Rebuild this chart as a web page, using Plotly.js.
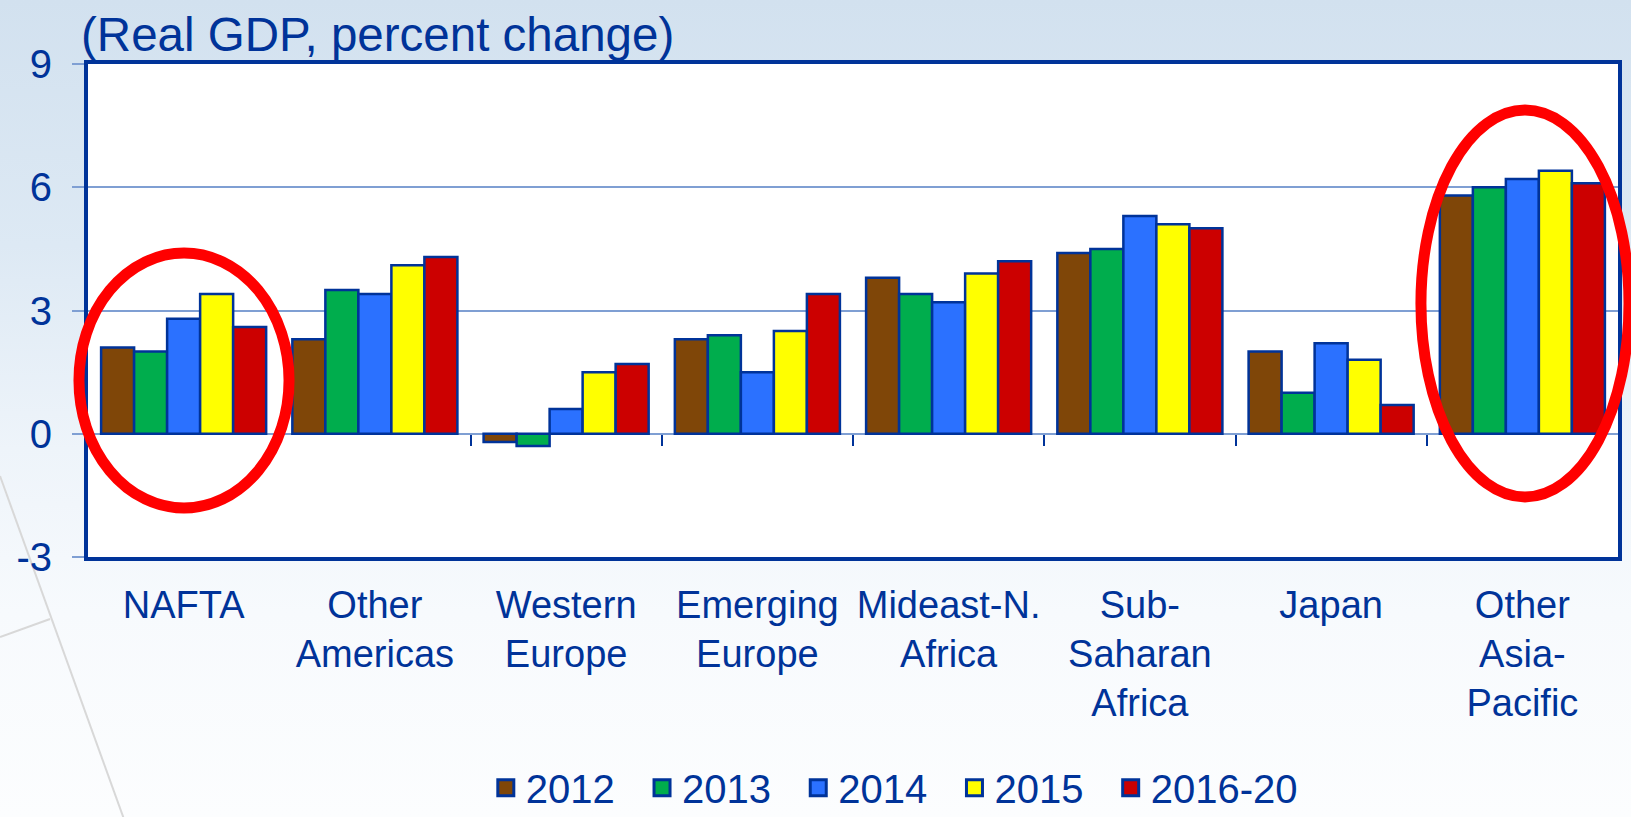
<!DOCTYPE html>
<html>
<head>
<meta charset="utf-8">
<script src="https://cdn.plot.ly/plotly-3.0.1.min.js"></script>
<style>
  html, body { margin: 0; padding: 0; }
  body {
    width: 1631px; height: 817px; overflow: hidden;
    background: linear-gradient(to bottom, #d2e1ef 0%, #dde9f4 30%, #eef4fa 55%, #f7fafd 75%, #fcfdfe 100%);
  }
  #chart { width: 1631px; height: 817px; }
</style>
</head>
<body>
<div id="chart"></div>
<script>
// ---- Data ----
const categories = ['NAFTA', 'Other<br>Americas', 'Western<br>Europe', 'Emerging<br>Europe',
                    'Mideast-N.<br>Africa', 'Sub-<br>Saharan<br>Africa', 'Japan', 'Other<br>Asia-<br>Pacific'];
const seriesNames = ['2012', '2013', '2014', '2015', '2016-20'];
const v2012   = [2.1, 2.3, -0.2, 2.3, 3.8, 4.4, 2.0, 5.8];
const v2013   = [2.0, 3.5, -0.3, 2.4, 3.4, 4.5, 1.0, 6.0];
const v2014   = [2.8, 3.4,  0.6, 1.5, 3.2, 5.3, 2.2, 6.2];
const v2015   = [3.4, 4.1,  1.5, 2.5, 3.9, 5.1, 1.8, 6.4];
const v2016_20 = [2.6, 4.3, 1.7, 3.4, 4.2, 5.0, 0.7, 6.1];
const yTicks = [-3, 0, 3, 6, 9];

const seriesValues = [v2012, v2013, v2014, v2015, v2016_20];
const seriesColors = ['#7f4608', '#00ad4d', '#2b71ff', '#ffff00', '#cc0000'];

const FONT = 'Liberation Sans, Arial, sans-serif';
const TXT = '#003399';
const OUTLINE = '#003399';
const GRID = '#7f9fd3';

const traces = [];
seriesNames.forEach((name, i) => {
  traces.push({
    type: 'bar',
    name: name,
    x: categories,
    y: seriesValues[i],
    marker: { color: seriesColors[i], line: { color: OUTLINE, width: 2.5 } },
    showlegend: false,
    hoverinfo: 'x+y+name'
  });
});
// legend entries (larger square swatches); trailing spaces give the reference item spacing
seriesNames.forEach((name, i) => {
  const pad = (i < seriesNames.length - 1) ? '\u00a0\u00a0' : '';
  traces.push({
    type: 'scatter',
    mode: 'markers',
    name: name + pad,
    x: [null], y: [null],
    xaxis: 'x2', yaxis: 'y',
    marker: { symbol: 'square', size: 16, color: seriesColors[i], line: { color: OUTLINE, width: 3 } },
    showlegend: true,
    hoverinfo: 'skip'
  });
});

const boundaryTicks = categories.slice(1).map((c, i) => i + 0.5);

const layout = {
  width: 1631, height: 817,
  margin: { l: 88, r: 13, t: 64, b: 260, autoexpand: false },
  paper_bgcolor: 'rgba(0,0,0,0)',
  plot_bgcolor: '#ffffff',
  font: { family: FONT, color: TXT },
  title: {
    text: '(Real GDP, percent change)',
    font: { family: FONT, size: 47.5, color: TXT },
    xref: 'container', x: 0.0497, xanchor: 'left',
    yref: 'container', y: 0.958, yanchor: 'middle'
  },
  barmode: 'group',
  bargap: 0.137,
  bargroupgap: 0,
  xaxis: {
    type: 'category',
    showline: true, mirror: true, linecolor: OUTLINE, linewidth: 4,
    showgrid: false, zeroline: false,
    ticks: '', tickangle: 0,
    ticklabelstandoff: 11,
    tickfont: { family: FONT, size: 38, color: TXT },
    automargin: false,
    fixedrange: true
  },
  xaxis2: {
    overlaying: 'x', anchor: 'free', position: 0.25, side: 'bottom',
    range: [-0.5, categories.length - 0.5],
    tickvals: boundaryTicks,
    ticks: 'outside', ticklen: 11, tickwidth: 2, tickcolor: OUTLINE,
    showticklabels: false, showline: false, showgrid: false, zeroline: false,
    fixedrange: true
  },
  yaxis: {
    range: [-3, 9],
    tickvals: yTicks,
    ticktext: yTicks.map(String),
    showline: true, mirror: true, linecolor: OUTLINE, linewidth: 4,
    showgrid: true, gridcolor: GRID, gridwidth: 1.5,
    zeroline: true, zerolinecolor: GRID, zerolinewidth: 1.5,
    ticks: 'outside', ticklen: 12, tickwidth: 1.5, tickcolor: GRID,
    ticklabelstandoff: 12,
    tickfont: { family: FONT, size: 40, color: TXT },
    automargin: false,
    fixedrange: true
  },
  legend: {
    orientation: 'h',
    x: 0.527, xanchor: 'center',
    y: -0.468, yanchor: 'middle',
    font: { family: FONT, size: 40, color: TXT },
    bgcolor: 'rgba(0,0,0,0)',
    itemclick: false, itemdoubleclick: false
  },
  shapes: [
    // decorative background lines (lower left)
    { type: 'line', xref: 'paper', yref: 'paper', layer: 'below',
      x0: -0.0575, y0: 0.1643, x1: 0.0242, y1: -0.5375,
      line: { color: '#d8d8d8', width: 2 } },
    { type: 'line', xref: 'paper', yref: 'paper', layer: 'below',
      x0: -0.0575, y0: -0.1623, x1: -0.0248, y1: -0.1258,
      line: { color: '#d8d8d8', width: 2 } },
    // red highlight ellipses
    { type: 'circle', xref: 'paper', yref: 'paper', layer: 'above',
      x0: -0.0059, x1: 0.1314, y0: 0.0994, y1: 0.6166,
      line: { color: '#ff0000', width: 11 } },
    { type: 'circle', xref: 'paper', yref: 'paper', layer: 'above',
      x0: 0.8712, x1: 1.0072, y0: 0.1217, y1: 0.9067,
      line: { color: '#ff0000', width: 11 } }
  ],
  showlegend: true,
  hovermode: 'closest'
};

Plotly.newPlot('chart', traces, layout, { displayModeBar: false, responsive: false });
</script>
</body>
</html>
